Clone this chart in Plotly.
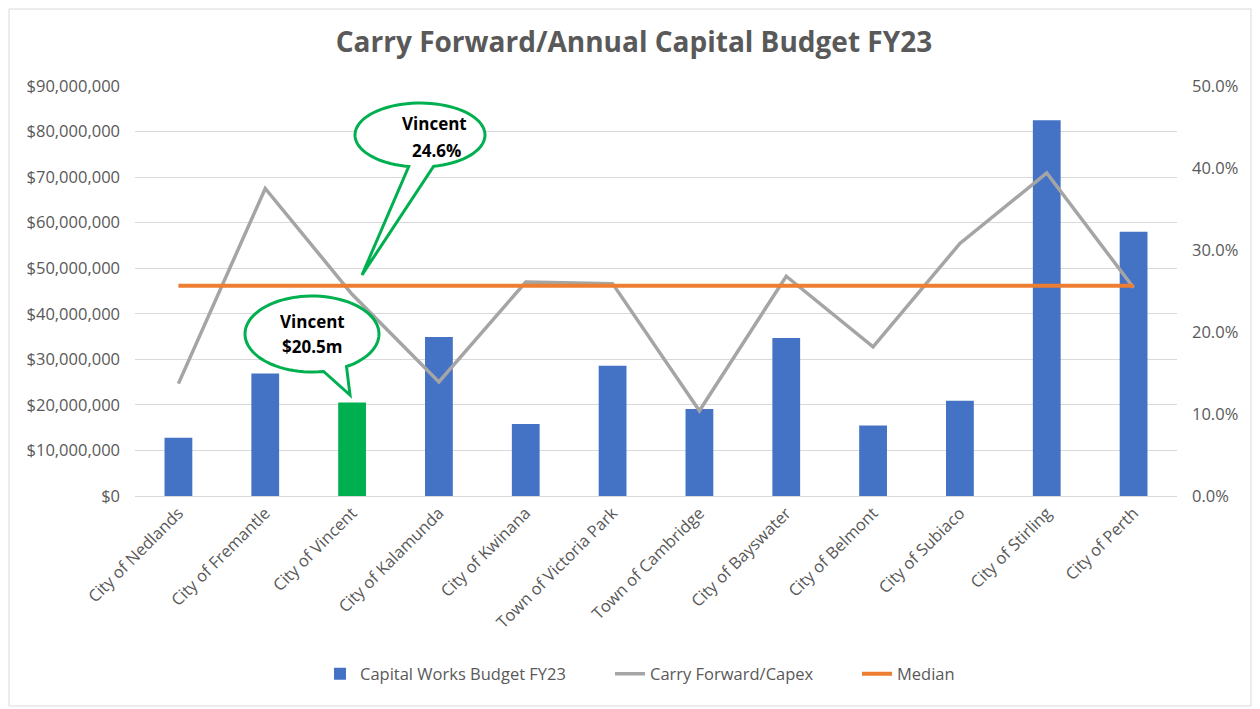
import numpy as np
import plotly.graph_objects as go

# DATA
councils = ['City of Nedlands', 'City of Fremantle', 'City of Vincent', 'City of Kalamunda',
            'City of Kwinana', 'Town of Victoria Park', 'Town of Cambridge', 'City of Bayswater',
            'City of Belmont', 'City of Subiaco', 'City of Stirling', 'City of Perth']
capital_budget = [12.8e6, 26.9e6, 20.5e6, 34.9e6, 15.8e6, 28.6e6,
                  19.1e6, 34.7e6, 15.5e6, 20.9e6, 82.5e6, 58.0e6]
carry_forward = [0.137, 0.375, 0.246, 0.139, 0.261, 0.259,
                 0.104, 0.268, 0.182, 0.308, 0.394, 0.254]
median_value = float(np.median(carry_forward))
median_line = [median_value] * len(councils)

left_ticks = [i * 10e6 for i in range(10)]
right_ticks = [0, 0.1, 0.2, 0.3, 0.4, 0.5]

# COLOURS / FONTS
BLUE = '#4472C4'
GREEN = '#00B050'
GREY = '#A5A5A5'
ORANGE = '#ED7D31'
TEXT = '#595959'
FONT = 'Open Sans'
TICK_SIZE = 16.5

bar_colors = [GREEN if c == 'City of Vincent' else BLUE for c in councils]

# PAGE BODY HAS AN 8PX MARGIN, SO THE FIGURE IS SHIFTED BY THAT MUCH
OFF = 8
W, H = 1260 - OFF, 709 - OFF
# PLOT AREA IN SCREEN PIXELS (used for placing the callouts)
PL, PR, PT, PB = 135, 1177, 86, 496


def to_paper(x, y):
    return (x - PL) / (PR - PL), (PB - y) / (PB - PT)


def bubble_path(cx, cy, rx, ry, a_start, a_end, tip):
    # ellipse outline from a_start round to a_end (degrees, screen coords), then the tail tip
    angles = np.radians(np.linspace(a_start, a_end, 80))
    pts = [to_paper(cx + rx * np.cos(a), cy + ry * np.sin(a)) for a in angles]
    pts.append(to_paper(*tip))
    return 'M ' + ' L '.join(f'{x:.5f},{y:.5f}' for x, y in pts) + ' Z'


fig = go.Figure()

fig.add_trace(go.Bar(x=councils, y=capital_budget, name='Capital Works Budget FY23',
                     marker=dict(color=bar_colors, line=dict(width=0)), width=0.32,
                     legend='legend', showlegend=True))
fig.add_trace(go.Scatter(x=councils, y=carry_forward, name='Carry Forward/Capex', mode='lines',
                         line=dict(color=GREY, width=3.5), yaxis='y2', legend='legend2'))
fig.add_trace(go.Scatter(x=councils, y=median_line, name='Median', mode='lines',
                         line=dict(color=ORANGE, width=4), yaxis='y2', legend='legend3'))

# CALLOUTS
callouts = [
    dict(cx=420, cy=135, rx=65, ry=32, a0=100, a1=438, tip=(362, 275),
         lines=[('Vincent', 434, 124), ('24.6%', 436, 150)]),
    dict(cx=312, cy=334, rx=67, ry=38, a0=80, a1=419, tip=(350, 395),
         lines=[('Vincent', 312, 321), ('$20.5m', 312, 346)]),
]
shapes = []
annotations = []
for c in callouts:
    shapes.append(dict(type='path', xref='paper', yref='paper', layer='above',
                       path=bubble_path(c['cx'], c['cy'], c['rx'], c['ry'], c['a0'], c['a1'], c['tip']),
                       fillcolor='white', line=dict(color=GREEN, width=3)))
    for txt, tx, ty in c['lines']:
        ax, ay = to_paper(tx, ty)
        annotations.append(dict(text=f'<b>{txt}</b>', x=ax, y=ay, xref='paper', yref='paper',
                                xanchor='center', yanchor='middle', showarrow=False,
                                font=dict(family=FONT, size=17, color='black')))

# OUTER BORDER
bx0, by0 = to_paper(9, 706)
bx1, by1 = to_paper(1251, 9)
shapes.append(dict(type='rect', xref='paper', yref='paper', x0=bx0, y0=by0, x1=bx1, y1=by1,
                   line=dict(color='#D9D9D9', width=1), layer='below'))


# ONE LEGEND PER TRACE SO THE GAPS MATCH THE ORIGINAL
def legend_at(text_left):
    lx, ly = to_paper(text_left - 40, 674)
    return dict(orientation='h', x=lx, xanchor='left', y=ly, yanchor='middle',
                borderwidth=0, bgcolor='rgba(0,0,0,0)',
                font=dict(family=FONT, size=TICK_SIZE, color=TEXT))


fig.update_layout(
    width=W, height=H,
    showlegend=True,
    margin=dict(l=PL - OFF, r=W - (PR - OFF), t=PT - OFF, b=H - (PB - OFF), autoexpand=False),
    plot_bgcolor='white', paper_bgcolor='white',
    title=dict(text='<b>Carry Forward/Annual Capital Budget FY23</b>', x=0.5, xref='container',
               xanchor='center', y=1 - (42 - OFF) / H, yanchor='middle',
               font=dict(family=FONT, size=28, color=TEXT)),
    xaxis=dict(tickangle=-45, showgrid=False, showline=True, linecolor='#D9D9D9',
               tickfont=dict(family=FONT, size=TICK_SIZE, color=TEXT), ticks='', automargin=False),
    yaxis=dict(range=[0, 90e6], tickvals=left_ticks, tickformat='$,.0f',
               gridcolor='#D9D9D9', zeroline=False, ticklabelstandoff=14, automargin=False,
               tickfont=dict(family=FONT, size=TICK_SIZE, color=TEXT)),
    yaxis2=dict(range=[0, 0.5], tickvals=right_ticks, tickformat='.1%', overlaying='y',
                side='right', showgrid=False, zeroline=False, ticklabelstandoff=14,
                automargin=False, tickfont=dict(family=FONT, size=TICK_SIZE, color=TEXT)),
    legend=legend_at(360),
    legend2=legend_at(650),
    legend3=legend_at(897),
    shapes=shapes,
    annotations=annotations,
    bargap=0.6,
)

fig.write_html('out.html')
